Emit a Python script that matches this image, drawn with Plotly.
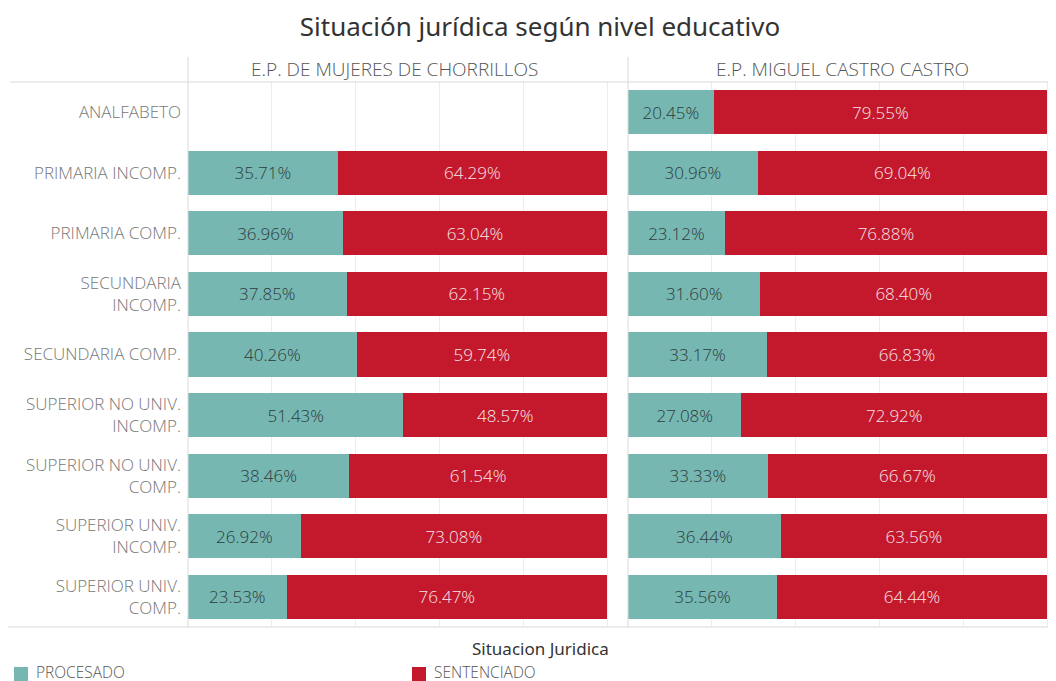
import plotly.graph_objects as go

categories = ["ANALFABETO", "PRIMARIA INCOMP.", "PRIMARIA COMP.", "SECUNDARIA<br>INCOMP.",
              "SECUNDARIA COMP.", "SUPERIOR NO UNIV.<br>INCOMP.", "SUPERIOR NO UNIV.<br>COMP.",
              "SUPERIOR UNIV.<br>INCOMP.", "SUPERIOR UNIV.<br>COMP."]
panels = ["E.P. DE MUJERES DE CHORRILLOS", "E.P. MIGUEL CASTRO CASTRO"]
series = ["PROCESADO", "SENTENCIADO"]

chorrillos_procesado = [None, 35.71, 36.96, 37.85, 40.26, 51.43, 38.46, 26.92, 23.53]
chorrillos_sentenciado = [None, 64.29, 63.04, 62.15, 59.74, 48.57, 61.54, 73.08, 76.47]
castro_procesado = [20.45, 30.96, 23.12, 31.60, 33.17, 27.08, 33.33, 36.44, 35.56]
castro_sentenciado = [79.55, 69.04, 76.88, 68.40, 66.83, 72.92, 66.67, 63.56, 64.44]

TEAL = "#76B7B2"
RED = "#C4182D"
FONT = "Open Sans"
TFONT = "Noto Sans"

OFF = 8  # page body margin
W, H = 1056 - OFF, 681 - OFF
L = 188 - OFF
T = 82 - OFF
BOT = 627 - OFF
B = H - BOT
plot_w = W - L
plot_h = BOT - T

def px_x(px):
    return (px - OFF - L) / plot_w

def px_y(py):
    return (BOT - (py - OFF)) / plot_h

split = px_x(628)
scale = (607 - 188) / 100.0

fig = go.Figure()
data = [(chorrillos_procesado, chorrillos_sentenciado, "x", "y"),
        (castro_procesado, castro_sentenciado, "x2", "y2")]
for proc, sent, xa, ya in data:
    for vals, name, col, tcol in [(proc, series[0], TEAL, "#2E3B3B"), (sent, series[1], RED, "#F6E6E8")]:
        fig.add_trace(go.Bar(
            x=vals, y=categories, orientation="h", name=name,
            marker=dict(color=col, line=dict(width=0)),
            text=[None if v is None else f"{v:.2f}%" for v in vals],
            textposition="inside", insidetextanchor="middle",
            textfont=dict(color=tcol, size=17, family=FONT, weight=300),
            xaxis=xa, yaxis=ya, showlegend=False, hoverinfo="skip",
        ))

gridc = "#EDEDED"
fig.update_layout(
    width=W, height=H,
    margin=dict(l=L, r=0, t=T, b=B),
    barmode="stack", bargap=0.27,
    uniformtext=dict(minsize=17, mode="show"),
    plot_bgcolor="white", paper_bgcolor="white",
    font=dict(family=FONT, color="#555555"),
    title=dict(text="Situación jurídica según nivel educativo", x=(540 - OFF) / W,
               xanchor="center", xref="container",
               y=1 - (27 - OFF) / H, yanchor="middle", font=dict(size=26, color="#333333", family=TFONT)),
    xaxis=dict(domain=[0, split], range=[0, (628 - 188) / scale], dtick=20, showgrid=True, gridcolor=gridc,
               showticklabels=False, zeroline=False, ticks=""),
    xaxis2=dict(domain=[split, 1], range=[0, (1056 - 628) / scale], dtick=20, showgrid=True, gridcolor=gridc,
                showticklabels=False, zeroline=False, ticks=""),
    yaxis=dict(categoryorder="array", categoryarray=categories, range=[8.5, -0.5],
               tickfont=dict(size=17, color="#777777", family=FONT, weight=300), ticks="",
               ticklabelstandoff=6),
    yaxis2=dict(categoryorder="array", categoryarray=categories, range=[8.5, -0.5],
                anchor="x2", showticklabels=False, ticks=""),
)

line_c = "#D9D9D9"
shapes = [
    dict(type="line", xref="paper", yref="paper", x0=px_x(10), x1=1, y0=1, y1=1,
         line=dict(color=line_c, width=1)),
    dict(type="line", xref="paper", yref="paper", x0=px_x(5), x1=1, y0=0, y1=0,
         line=dict(color=line_c, width=1)),
    dict(type="line", xref="paper", yref="paper", x0=0, x1=0, y0=0, y1=px_y(57),
         line=dict(color=line_c, width=1)),
    dict(type="line", xref="paper", yref="paper", x0=split, x1=split, y0=0, y1=px_y(57),
         line=dict(color=line_c, width=1)),
    dict(type="rect", xref="paper", yref="paper", x0=px_x(14), x1=px_x(28), y0=px_y(682), y1=px_y(667),
         fillcolor=TEAL, line=dict(width=0)),
    dict(type="rect", xref="paper", yref="paper", x0=px_x(412), x1=px_x(426), y0=px_y(682), y1=px_y(667),
         fillcolor=RED, line=dict(width=0)),
]
fig.update_layout(shapes=shapes)

ann = [
    dict(text=panels[0], x=px_x(394), y=px_y(69), xref="paper", yref="paper", showarrow=False,
         xanchor="center", yanchor="middle", font=dict(size=19, color="#555555", family=FONT, weight=300)),
    dict(text=panels[1], x=px_x(842), y=px_y(69), xref="paper", yref="paper", showarrow=False,
         xanchor="center", yanchor="middle", font=dict(size=19, color="#555555", family=FONT, weight=300)),
    dict(text="Situacion Juridica", x=px_x(540), y=px_y(648), xref="paper", yref="paper", showarrow=False,
         xanchor="center", yanchor="middle", font=dict(size=17, color="#333333", family=TFONT)),
    dict(text=series[0], x=px_x(34), y=px_y(672), xref="paper", yref="paper", showarrow=False,
         xanchor="left", yanchor="middle", font=dict(size=15.5, color="#555555", family=FONT, weight=300)),
    dict(text=series[1], x=px_x(432), y=px_y(672), xref="paper", yref="paper", showarrow=False,
         xanchor="left", yanchor="middle", font=dict(size=15.5, color="#555555", family=FONT, weight=300)),
]
fig.update_layout(annotations=ann)

fig.write_html("out.html")
